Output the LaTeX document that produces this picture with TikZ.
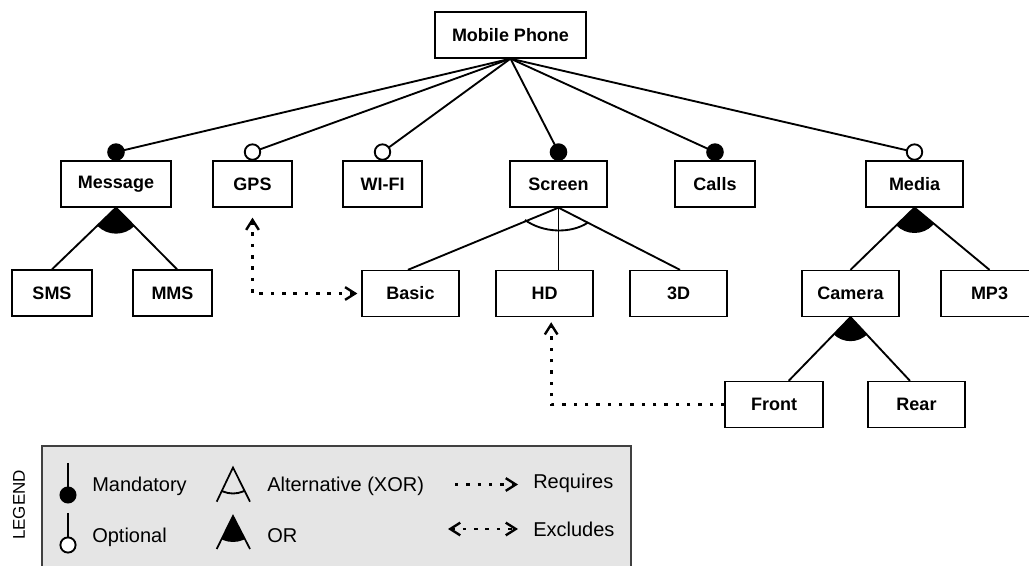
\documentclass[tikz,border=0pt]{standalone}
\usepackage{fontspec}
\setmainfont{Liberation Sans}
\usetikzlibrary{arrows.meta,calc}

\begin{document}
\begin{tikzpicture}[x=0.75pt,y=-0.75pt,
  >={Straight Barb[length=7.5pt, width=9.5pt, line width=1.8pt]},
  feat/.style={draw, line width=1pt, minimum height=34.5pt, inner sep=0pt,
    fill=white, font=\bfseries\fontsize{13.5}{16}\selectfont},
  edge/.style={line width=1.4pt},
  mand/.style={fill=black},
  opt/.style={draw, fill=white, line width=1.4pt},
  dep/.style={line width=2pt, dash pattern=on 2.6pt off 5.9pt},
  legtext/.style={anchor=base west, inner sep=0pt, font=\fontsize{15}{18}\selectfont}]

\useasboundingbox (0,0) rectangle (1029,566);

% ---------- features ----------
\node[feat, minimum width=113.25pt] (MP)      at (510.5,35)  {Mobile Phone};
\node[feat, minimum width=82.5pt]   (Message) at (116,184)   {Message};
\node[feat, minimum width=59.25pt]  (GPS)     at (252.5,184) {GPS};
\node[feat, minimum width=59.25pt]  (WIFI)    at (382.5,184) {WI-FI};
\node[feat, minimum width=72.75pt]  (Screen)  at (558.5,184) {Screen};
\node[feat, minimum width=60pt]     (Calls)   at (715,184)   {Calls};
\node[feat, minimum width=72.75pt]  (Media)   at (914.5,184) {Media};
\node[feat, minimum width=60pt]     (SMS)     at (52,293)    {SMS};
\node[feat, minimum width=59.25pt]  (MMS)     at (172.5,293) {MMS};
\node[feat, minimum width=72.75pt]  (Basic)   at (410.5,293.5) {Basic};
\node[feat, minimum width=72.75pt]  (HD)      at (544.5,293.5) {HD};
\node[feat, minimum width=72.75pt]  (3D)      at (678.5,293.5) {3D};
\node[feat, minimum width=72.75pt]  (Camera)  at (850.5,293.5) {Camera};
\node[feat, minimum width=72.75pt]  (MP3)     at (989.5,293.5) {MP3};
\node[feat, minimum width=73.5pt]   (Front)   at (774,404.5) {Front};
\node[feat, minimum width=72.75pt]  (Rear)    at (916.5,404.5) {Rear};

% ---------- root decomposition ----------
\foreach \c in {Message,GPS,WIFI,Screen,Calls,Media}
  \draw[edge] (MP.south) -- ([yshift=6.2pt]\c.north) coordinate (k\c);
\foreach \c in {Message,Screen,Calls}
  \fill[mand] (k\c) circle (6.6pt);
\foreach \c in {GPS,WIFI,Media}
  \path[opt] (k\c) circle (5.8pt);

% ---------- Message: OR ----------
\coordinate (mA) at ([xshift=3.4pt]MMS.north);
\begin{scope}
  \clip (Message.south) -- (SMS.north) -- (mA) -- cycle;
  \fill (Message.south) circle (19.5pt);
\end{scope}
\draw[edge] (Message.south) -- (SMS.north);
\draw[edge] (Message.south) -- (mA);

% ---------- Screen: alternative ----------
\coordinate (sB) at ([xshift=-1.9pt]Basic.north);
\coordinate (s3) at ([xshift=1.1pt]3D.north);
\draw[edge] (Screen.south) -- (sB);
\draw[edge] (Screen.south) -- (s3);
\draw[edge] (Screen.south) -- (Screen.south |- HD.north);
\draw[edge] (525,220) .. controls (543,233) and (571,234) .. (588,222.5);

% ---------- Media: OR ----------
\begin{scope}
  \clip (Media.south) -- (Camera.north) -- (MP3.north) -- cycle;
  \fill (Media.south) circle (19pt);
\end{scope}
\draw[edge] (Media.south) -- (Camera.north);
\draw[edge] (Media.south) -- (MP3.north);

% ---------- Camera: OR ----------
\coordinate (cF) at ([xshift=11pt]Front.north);
\coordinate (cR) at ([xshift=-4.9pt]Rear.north);
\begin{scope}
  \clip (Camera.south) -- (cF) -- (cR) -- cycle;
  \fill (Camera.south) circle (18pt);
\end{scope}
\draw[edge] (Camera.south) -- (cF);
\draw[edge] (Camera.south) -- (cR);

% ---------- cross-tree constraints ----------
\draw[dep, <->] ([yshift=-7.5pt]GPS.south) |- ([xshift=-3pt]Basic.west);
\draw[dep, ->] (Front.west) -| ([xshift=5pt,yshift=-3.8pt]HD.south);

% ---------- legend ----------
\draw[line width=0.9pt, draw=black!75, fill=black!10] (42,446) rectangle (631,600);
\node[rotate=90, inner sep=0pt, font=\fontsize{12.75}{15}\selectfont] (legend) at (19,505) {LEGEND};

% mandatory
\coordinate (lm1) at (68,463);
\coordinate (lm2) at (68,495);
\draw[line width=1.2pt] (lm1) -- (lm2);
\fill (lm2) circle (6.4pt);
\node[legtext] (tMand) at (92,492) {Mandatory};

% optional
\coordinate (lo1) at (68,513);
\coordinate (lo2) at (68,545);
\draw[line width=1.2pt] (lo1) -- ([yshift=6pt]lo2);
\draw[line width=1.4pt, fill=white] (lo2) circle (5.7pt);
\node[legtext] (tOpt) at (92,543) {Optional};

% alternative
\coordinate (xa) at (233,467.5);
\coordinate (xl) at (216.7,501.7);
\coordinate (xr) at (250,501.7);
\draw[line width=1.3pt] (xl) -- (xa) -- (xr);
\begin{scope}
  \clip (xa) -- (xl) -- (xr) -- cycle;
  \draw[line width=1.4pt] (xa) circle (19.5pt);
\end{scope}
\node[legtext] (tXor) at (267,492) {Alternative (XOR)};

% or
\coordinate (oa) at (233,516);
\coordinate (ol) at (216.7,549);
\coordinate (or) at (250,549);
\draw[line width=1.3pt] (ol) -- (oa) -- (or);
\begin{scope}
  \clip (oa) -- (ol) -- (or) -- cycle;
  \fill (oa) circle (19.5pt);
\end{scope}
\node[legtext] (tOr) at (267,543) {OR};

% requires / excludes
\coordinate (r1) at (455,484.5);
\coordinate (r2) at (518,484.5);
\draw[dep, ->] (r1) -- (r2);
\node[legtext] (tReq) at (533,489) {Requires};

\coordinate (e1) at (448,529);
\coordinate (e2) at (518,529);
\draw[dep, <->] (e1) -- (e2);
\node[legtext] (tExc) at (533,537) {Excludes};

\end{tikzpicture}
\end{document}
